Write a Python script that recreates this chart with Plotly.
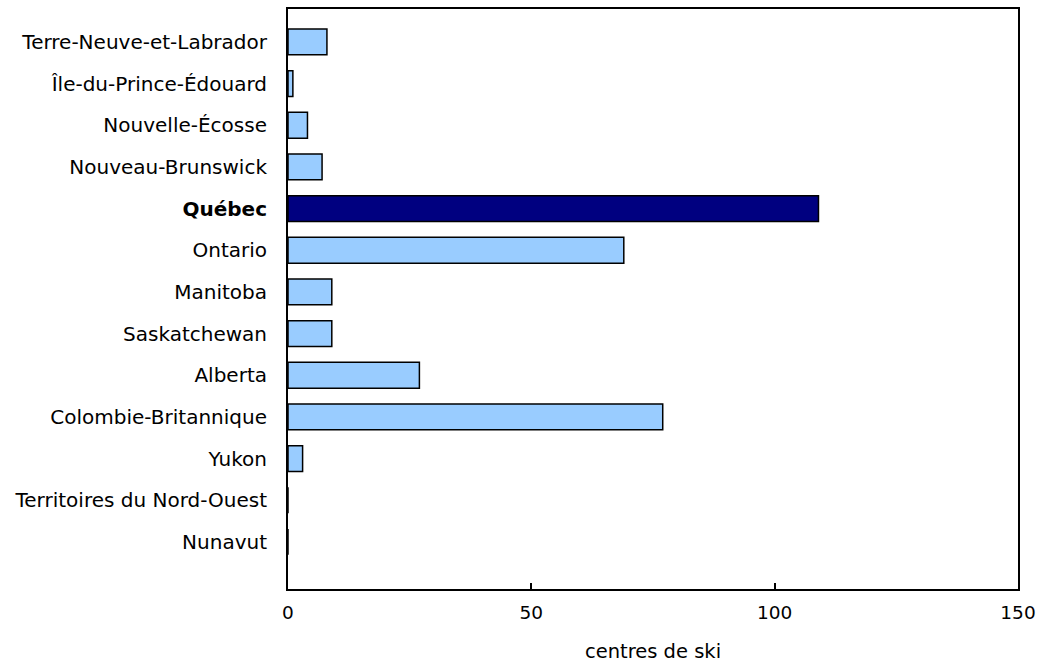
import plotly.graph_objects as go

provinces = [
    "Terre-Neuve-et-Labrador",
    "Île-du-Prince-Édouard",
    "Nouvelle-Écosse",
    "Nouveau-Brunswick",
    "Québec",
    "Ontario",
    "Manitoba",
    "Saskatchewan",
    "Alberta",
    "Colombie-Britannique",
    "Yukon",
    "Territoires du Nord-Ouest",
    "Nunavut",
]
ski_centres = [8, 1, 4, 7, 109, 69, 9, 9, 27, 77, 3, 0, 0]
highlight = "Québec"
x_ticks = [0, 50, 100, 150]

colors = ["#000080" if p == highlight else "#99CCFF" for p in provinces]
ticktext = ["<b>%s</b>" % p if p == highlight else p for p in provinces]

fig = go.Figure(go.Bar(
    x=ski_centres,
    y=provinces,
    orientation="h",
    width=0.62,
    marker=dict(color=colors, line=dict(color="#000000", width=1.5)),
))

fig.update_layout(
    width=1039, height=663,
    margin=dict(l=288, r=21, t=9, b=74, autoexpand=False),
    paper_bgcolor="white", plot_bgcolor="white",
    font=dict(family="DejaVu Sans, Verdana, sans-serif", size=18, color="#000000"),
    showlegend=False,
)
fig.update_xaxes(
    range=[0, 150], tickvals=x_ticks, ticktext=[str(v) for v in x_ticks],
    ticks="inside", ticklen=6, tickwidth=2, tickcolor="#000000",
    tickfont=dict(size=18.5), automargin=False,
    showline=True, linecolor="#000000", linewidth=2, mirror=True,
    showgrid=False, zeroline=False, ticklabelstandoff=6,
    title=dict(text="centres de ski", standoff=22, font=dict(size=19.5)),
)
fig.update_yaxes(
    type="category", categoryorder="array", categoryarray=provinces,
    tickvals=provinces, ticktext=ticktext, tickfont=dict(size=20),
    range=[len(provinces) - 1 + 1.13, -0.79], automargin=False,
    showline=True, linecolor="#000000", linewidth=2, mirror=True,
    showgrid=False, zeroline=False, ticks="", ticklabelstandoff=15,
)

fig.write_html(
    "out.html",
    config={"displayModeBar": False},
    post_script="document.body.style.margin='0';document.body.style.overflow='hidden';",
)
